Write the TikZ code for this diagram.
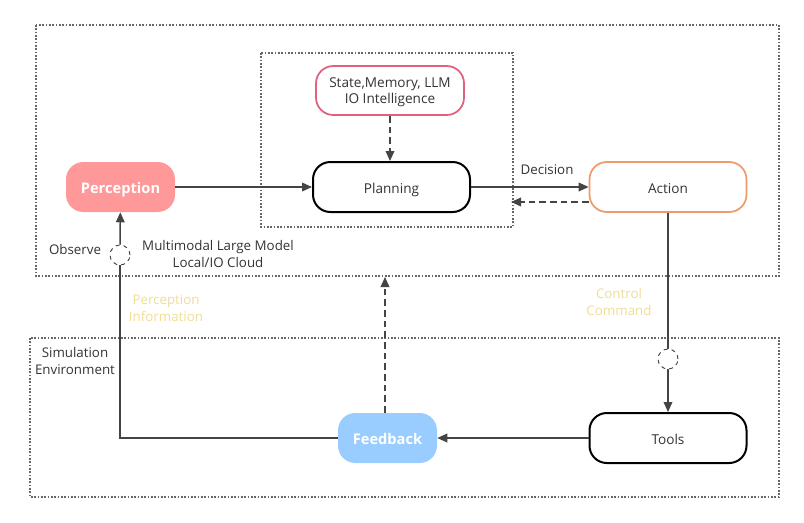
\documentclass[tikz,border=0pt]{standalone}
\usepackage{fontspec}
\setmainfont{Open Sans}
\usetikzlibrary{arrows.meta}
\definecolor{txt}{HTML}{333333}
\definecolor{ln}{HTML}{444444}
\definecolor{pred}{HTML}{FF9999}
\definecolor{pblue}{HTML}{99CCFF}
\definecolor{pink}{HTML}{E0607E}
\definecolor{orng}{HTML}{EE9A6A}
\definecolor{ylw}{HTML}{F0DC96}
\definecolor{frame}{HTML}{666666}
\tikzset{
  base/.style={rounded corners=13pt, inner sep=0pt, align=center, font=\fontsize{10.2}{12.5}\selectfont, text=txt, text height=10pt, text depth=0pt},
  blk/.style={base, draw=black, line width=1.5pt, minimum width={157*0.75pt}, minimum height={50*0.75pt}},
  filled/.style={base, text=white, font=\fontsize{11}{13}\selectfont\bfseries, minimum height={50*0.75pt}},
  frm/.style={draw=frame, line width=0.9pt, dash pattern=on 1.2pt off 1.3pt},
  conn/.style={draw=ln, line width=1.1pt, -{Triangle[length=7.5pt,width=6.5pt]}},
  plain/.style={draw=ln, line width=1.1pt},
  dconn/.style={conn, dash pattern=on 5pt off 3pt},
  lbl/.style={font=\fontsize{10}{12.5}\selectfont, text=txt, align=center, inner sep=0pt},
  ylbl/.style={lbl, text=ylw},
  junc/.style={circle, draw=ln, dashed, line width=0.7pt, minimum size={20*0.75pt}, inner sep=0pt},
}
\begin{document}
\begin{tikzpicture}[x=0.75pt, y=-0.75pt]
\useasboundingbox (0,0) rectangle (804,522);
% frames
\draw[frm] (36,25) rectangle (779,276);
\draw[frm] (261,53) rectangle (513,227);
\draw[frm] (30,338) rectangle (779,497);
% nodes
\node[blk, draw=pink, line width=1.3pt, minimum width={148*0.75pt}, minimum height={49*0.75pt}, text height=, text depth=0pt] (state) at (390,90.5) {State,Memory, LLM\\IO Intelligence};
\node[blk] (plan) at (391.5,187) {Planning};
\node[blk, draw=orng, line width=1.3pt] (act) at (668,187) {Action};
\node[blk] (tools) at (668,438) {Tools};
\node[filled, fill=pred, minimum width={109*0.75pt}] (perc) at (120.5,187) {Perception};
\node[filled, fill=pblue, minimum width={99*0.75pt}] (feed) at (387.5,438) {Feedback};
\node[junc] (j1) at (120,255) {};
\node[junc] (j2) at (668,359) {};
\coordinate (dend) at (511,202);
\coordinate (corner) at (120,438);
\coordinate (fbend) at (385,277);
% connectors
\draw[conn] (perc) -- (plan);
\draw[dconn] (state) -- (plan.north -| state);
\draw[conn] (plan) -- (act);
\draw[dconn] (act.west |- dend) -- (dend);
\draw[plain] (act) -- (j2);
\draw[conn] (j2) -- (tools);
\draw[conn] (tools) -- (feed);
\draw[plain] (feed.west) -- (corner) -- (j1);
\draw[conn] (j1) -- (perc);
\draw[dconn] (feed.north -| fbend) -- (fbend);
% labels
\node[lbl] (ldec) at (547,170) {Decision};
\node[lbl] (lobs) at (75,249) {Observe};
\node[lbl] (lmm) at (218,254) {Multimodal Large Model\\Local/IO Cloud};
\node[ylbl] (lpi) at (166,308) {Perception\\Information};
\node[ylbl] (lcc) at (619,302) {Control\\Command};
\node[lbl] (lsim) at (75,361) {Simulation\\Environment};
\end{tikzpicture}
\end{document}
